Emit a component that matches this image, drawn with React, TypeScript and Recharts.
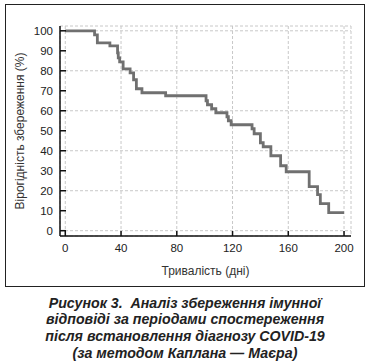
import { CartesianGrid, Line, LineChart, XAxis, YAxis } from 'recharts'

// Kaplan–Meier step points
const days = [
  0, 21, 23, 32, 37.5, 38, 39, 41.5, 46.5, 49, 51, 55, 72, 101, 102, 105, 108, 116, 117, 119, 134, 135.5, 140,
  142, 147.5, 154.5, 158.5, 175, 181, 183, 189, 200,
]
const survival = [
  100, 98, 94, 92.5, 89, 86.5, 84.5, 81, 79, 75.5, 71, 69, 67.5, 65, 63, 61, 59, 57, 55, 53, 51, 48.5, 44, 42,
  37.5, 32.5, 29.5, 22, 18, 13.5, 9, 9,
]
const xTicks = [0, 40, 80, 120, 160, 200]
const yTicks = [0, 10, 20, 30, 40, 50, 60, 70, 80, 90, 100]

const data = days.map((d, i) => ({ day: d, s: survival[i] }))

const font = '"Liberation Sans", Arial, sans-serif'

function YLabel({ viewBox }: any) {
  const cx = viewBox.x + 20
  const cy = viewBox.y + viewBox.height / 2
  return (
    <text
      x={cx}
      y={cy}
      transform={`rotate(-90 ${cx} ${cy})`}
      textAnchor="middle"
      dominantBaseline="central"
      fontSize={12}
      fill="#333"
      fontFamily={font}
    >
      Вірогідність збереження (%)
    </text>
  )
}

export default function App() {
  return (
    <div style={{ position: 'absolute', left: 0, top: 0, width: 370, height: 364, fontFamily: font }}>
      <div
        style={{
          position: 'absolute',
          left: 5,
          top: 4,
          width: 360,
          height: 283,
          border: '1.5px solid #222',
          boxSizing: 'border-box',
        }}
      />
      <div style={{ position: 'absolute', left: 0, top: 0 }}>
        <LineChart width={370} height={290} data={data} margin={{ top: 26, right: 19, bottom: 4, left: 0 }}>
          <CartesianGrid stroke="#c8c8c8" strokeDasharray="3 2" />
          <XAxis
            dataKey="day"
            type="number"
            domain={[-3.8, 205]}
            ticks={xTicks}
            height={50}
            tickSize={-5}
            tickMargin={13}
            stroke="#111"
            strokeWidth={1.5}
            tick={{ fontSize: 11.5, fill: '#222', fontFamily: font }}
            label={{ value: 'Тривалість (дні)', position: 'insideBottom', offset: 11, fontSize: 12, fill: '#333', fontFamily: font }}
          />
          <YAxis
            type="number"
            domain={[-2.65, 102.4]}
            ticks={yTicks}
            width={60}
            tickSize={-6}
            tickMargin={13}
            stroke="#111"
            strokeWidth={1.5}
            tick={{ fontSize: 11.5, fill: '#222', fontFamily: font }}
            label={<YLabel />}
          />
          <Line
            type="stepAfter"
            dataKey="s"
            stroke="#707070"
            strokeWidth={2.8}
            dot={false}
            isAnimationActive={false}
          />
        </LineChart>
      </div>
      <div
        style={{
          position: 'absolute',
          left: 0,
          top: 294.5,
          width: 370,
          textAlign: 'center',
          fontWeight: 'bold',
          fontStyle: 'italic',
          fontSize: 14.2,
          lineHeight: '16.7px',
          color: '#222',
        }}
      >
        Рисунок 3.&nbsp; Аналіз збереження імунної
        <br />
        відповіді за періодами спостереження
        <br />
        після встановлення діагнозу COVID-19
        <br />
        (за методом Каплана — Маєра)
      </div>
    </div>
  )
}
